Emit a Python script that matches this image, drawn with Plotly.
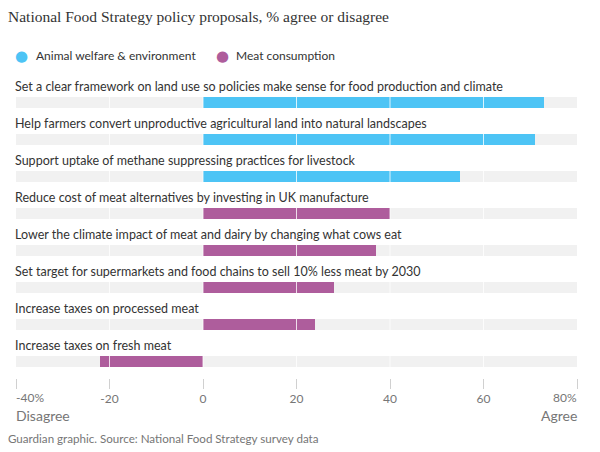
import plotly.graph_objects as go

categories = [
    "Set a clear framework on land use so policies make sense for food production and climate",
    "Help farmers convert unproductive agricultural land into natural landscapes",
    "Support uptake of methane suppressing practices for livestock",
    "Reduce cost of meat alternatives by investing in UK manufacture",
    "Lower the climate impact of meat and dairy by changing what cows eat",
    "Set target for supermarkets and food chains to sell 10% less meat by 2030",
    "Increase taxes on processed meat",
    "Increase taxes on fresh meat",
]
values = [73, 71, 55, 40, 37, 28, 24, -22]
groups = ["Animal welfare & environment"] * 3 + ["Meat consumption"] * 5
group_names = ["Animal welfare & environment", "Meat consumption"]
group_colors = {"Animal welfare & environment": "#4dc4f5", "Meat consumption": "#ae5d9c"}
tick_vals = [-40, -20, 0, 20, 40, 60, 80]
tick_text = ["", "-20", "0", "20", "40", "60", ""]
x_min, x_max = -40, 80

FONT = "Lato"
TEXT = "#333333"
GREY = "#767676"

# plot-area geometry (pixels) used to place paper-referenced texts
W, H = 600, 452
ML, MR, MT, MB = 16, 23, 80, 74
PW, PH = W - ML - MR, H - MT - MB


def px(xp):
    return (xp - ML) / PW


def py(yp):
    return (H - MB - yp) / PH


ypos = list(range(len(categories)))

fig = go.Figure()
# background track
fig.add_trace(go.Bar(
    y=ypos, x=[x_max - x_min] * len(ypos), base=[x_min] * len(ypos),
    orientation="h", marker=dict(color="#f1f1f1", line=dict(width=0)),
    width=0.3, showlegend=False, hoverinfo="skip"))
# value bars
for g in group_names:
    idx = [i for i, gg in enumerate(groups) if gg == g]
    fig.add_trace(go.Bar(
        y=[ypos[i] for i in idx], x=[values[i] for i in idx],
        base=[0] * len(idx), orientation="h", name=g,
        marker=dict(color=group_colors[g], line=dict(width=0)),
        width=0.3, showlegend=False))

shapes = []
for i in ypos:
    for t in tick_vals[1:-1]:
        shapes.append(dict(type="line", xref="x", yref="y", x0=t, x1=t,
                           y0=i - 0.16, y1=i + 0.16, layer="above",
                           line=dict(color="rgba(255,255,255,0.8)", width=1)))

annotations = []
for i, c in zip(ypos, categories):
    annotations.append(dict(x=x_min, y=i, xref="x", yref="y", text=c,
                            xanchor="left", yanchor="middle", yshift=16.5, xshift=-3,
                            showarrow=False, font=dict(family=FONT, size=12.5, color=TEXT)))

# axis end labels
annotations += [
    dict(x=x_min, y=py(398), xref="x", yref="paper", text="-40%", xanchor="left", xshift=-2,
         yanchor="middle", showarrow=False, font=dict(family=FONT, size=12, color=GREY)),
    dict(x=x_max, y=py(398), xref="x", yref="paper", text="80%", xanchor="right", xshift=2,
         yanchor="middle", showarrow=False, font=dict(family=FONT, size=12, color=GREY)),
    dict(x=x_min, y=py(415), xref="x", yref="paper", text="Disagree", xanchor="left", xshift=-2,
         yanchor="middle", showarrow=False, font=dict(family=FONT, size=14, color=GREY)),
    dict(x=x_max, y=py(415), xref="x", yref="paper", text="Agree", xanchor="right", xshift=2,
         yanchor="middle", showarrow=False, font=dict(family=FONT, size=14, color=GREY)),
]

# title
annotations.append(dict(x=px(9), y=py(17), xref="paper", yref="paper", xshift=-3,
                        text="National Food Strategy policy proposals, % agree or disagree",
                        xanchor="left", yanchor="middle", showarrow=False,
                        font=dict(family="Liberation Serif", size=15.5, color=TEXT)))

# legend
legend_dot_x = [21, 222]
legend_text_x = [37, 237]
for g, dx, tx in zip(group_names, legend_dot_x, legend_text_x):
    annotations.append(dict(
        x=px(dx), y=py(56), xref="paper", yref="paper", text="●",
        xanchor="center", yanchor="middle", showarrow=False,
        font=dict(family="DejaVu Sans", size=15, color=group_colors[g])))
    annotations.append(dict(
        x=px(tx), y=py(56), xref="paper", yref="paper", text=g, xshift=-3,
        xanchor="left", yanchor="middle", showarrow=False,
        font=dict(family=FONT, size=12, color=TEXT)))

# source
annotations.append(dict(x=px(9), y=py(438), xref="paper", yref="paper", xshift=-3,
                        text="Guardian graphic. Source: National Food Strategy survey data",
                        xanchor="left", yanchor="middle", showarrow=False,
                        font=dict(family=FONT, size=11.6, color=GREY)))

fig.update_layout(
    width=W, height=H,
    margin=dict(l=ML, r=MR, t=MT, b=MB),
    paper_bgcolor="white", plot_bgcolor="white",
    barmode="overlay", bargap=0,
    shapes=shapes, annotations=annotations,
    xaxis=dict(range=[x_min, x_max], tickvals=tick_vals, ticktext=tick_text,
               showgrid=False, zeroline=False, showline=False, automargin=False,
               ticks="outside", ticklen=10, tickcolor="#d0d0d0", tickwidth=1,
               tickfont=dict(family=FONT, size=12, color=GREY), fixedrange=True),
    yaxis=dict(range=[7.446, -0.608], showgrid=False, zeroline=False, automargin=False,
               showticklabels=False, showline=False, fixedrange=True),
    showlegend=False,
)

fig.write_html("out.html", config={"displayModeBar": False},
               post_script="document.body.style.margin='0';")
